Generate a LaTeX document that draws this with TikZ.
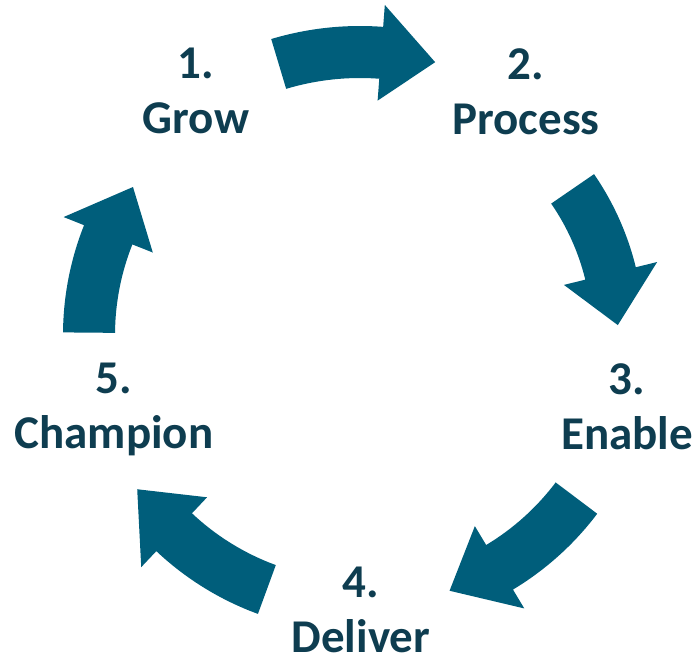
\documentclass[tikz,border=0pt]{standalone}
\usepackage{fontspec}
\setmainfont{Carlito}
\usepackage{tikz}
\definecolor{stagetext}{HTML}{0E3D50}
\definecolor{stagearrow}{HTML}{005E7B}

\begin{document}
\begin{tikzpicture}[x=1bp, y=1bp,
  stage/.style={anchor=north, inner sep=0pt, align=center, text=stagetext,
    font=\fontsize{47bp}{55bp}\selectfont\bfseries},
  turn/.style={fill=stagearrow}]
  \useasboundingbox (0,0) rectangle (696,663);
  \coordinate (hub) at (360,328);

  \node[stage] (grow)     at (196,615) {1.\\Grow};
  \node[stage] (process)  at (526,615) {2.\\Process};
  \node[stage] (enable)   at (627,300) {3.\\Enable};
  \node[stage] (deliver)  at (361,96)  {4.\\Deliver};
  \node[stage] (champion) at (114,300) {5.\\Champion};

  % tail angle / head angle / tip angle / radius
  \foreach \a/\b/\t/\r in {106.7/85.7/74.6/283, 34.5/13.8/2.2/258,
      -37/-59/-70.7/271, -110.1/-133.3/-145.3/271, 179.5/158.3/146.9/271}
    \fill[turn, shift={(hub)}] ({\a}:{\r+26}) arc[start angle=\a, end angle=\b, radius=\r+26]
      -- ({\b}:{\r+48}) -- ({\t}:{\r}) -- ({\b}:{\r-48}) -- ({\b}:{\r-26})
      arc[start angle=\b, end angle=\a, radius=\r-26] -- cycle;
\end{tikzpicture}
\end{document}
